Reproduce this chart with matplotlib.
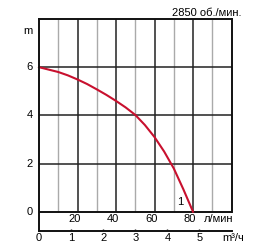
import numpy as np
import matplotlib
matplotlib.use('Agg')
import matplotlib.pyplot as plt

plt.rcParams['font.family'] = ['Liberation Sans', 'DejaVu Sans']

# Характеристика насоса: расход (л/мин) и напор (м)
flow_lpm = [0, 10, 15, 20, 25, 30, 35, 40, 45, 50, 55, 60, 65, 70, 75, 80]
head_m = [6.0, 5.8, 5.66, 5.49, 5.3, 5.08, 4.85, 4.6, 4.33, 4.02, 3.6,
          3.1, 2.5, 1.8, 0.93, 0.0]

lpm_ticks = [20, 40, 60, 80]
grid_major = [20, 40, 60, 80]
grid_minor = [10, 30, 50, 70, 90]
head_ticks = [0, 2, 4, 6]
m3h_ticks = [0, 1, 2, 3, 4, 5]
LPM_PER_M3H = 1000 / 60
FS = 8

fig = plt.figure(figsize=(2.7, 2.5), dpi=100)
ax = fig.add_axes([39 / 270, 19 / 250, 192.5 / 270, 212 / 250])
ax.set_xlim(0, 100)
ax.set_ylim(-0.8, 8)

for s in ['top', 'left', 'bottom', 'right']:
    ax.spines[s].set_linewidth(1.4)
    ax.spines[s].set_color('#111111')
ax.spines['right'].set_bounds(0, 8)
ax.set_xticks([])
ax.set_yticks([])

# сетка
ax.vlines(grid_minor, 0, 8, color='#aaaaaa', lw=1.0)
ax.vlines(grid_major, 0, 8, color='#222222', lw=1.1)
ax.hlines(head_ticks[1:], 0, 100, color='#222222', lw=1.1)
ax.hlines(0, 0, 100, color='#111111', lw=1.4)

# кривая
ax.plot(flow_lpm, head_m, color='#c8102e', lw=1.5, clip_on=False)
ax.text(73.2, 0.39, '1', fontsize=FS, ha='center', va='center')

# подписи оси напора
for h in head_ticks:
    ax.text(-4.7, h, str(h), fontsize=FS, ha='center', va='center', clip_on=False)
ax.text(-5.7, 7.5, 'm', fontsize=FS, ha='center', va='center', clip_on=False)

# подписи расхода л/мин
for q in lpm_ticks:
    ax.text(q - 1.7, -0.32, str(q), fontsize=FS, ha='center', va='center')
ax.text(93.2, -0.32, 'л/мин', fontsize=FS, ha='center', va='center')

# подписи расхода м³/ч
for m in m3h_ticks:
    x = m * LPM_PER_M3H
    ax.text(x, -1.11, str(m), fontsize=FS, ha='center', va='center', clip_on=False)
    if m > 0:
        ax.vlines(x, -0.8, -0.7, color='#111111', lw=1.0)
ax.text(100.8, -1.11, 'm³/ч', fontsize=FS, ha='center', va='center', clip_on=False)

fig.text(241 / 270, 1 - 12.7 / 250, '2850 об./мин.', fontsize=FS, ha='right', va='center')

fig.savefig('out.png', dpi=100)
